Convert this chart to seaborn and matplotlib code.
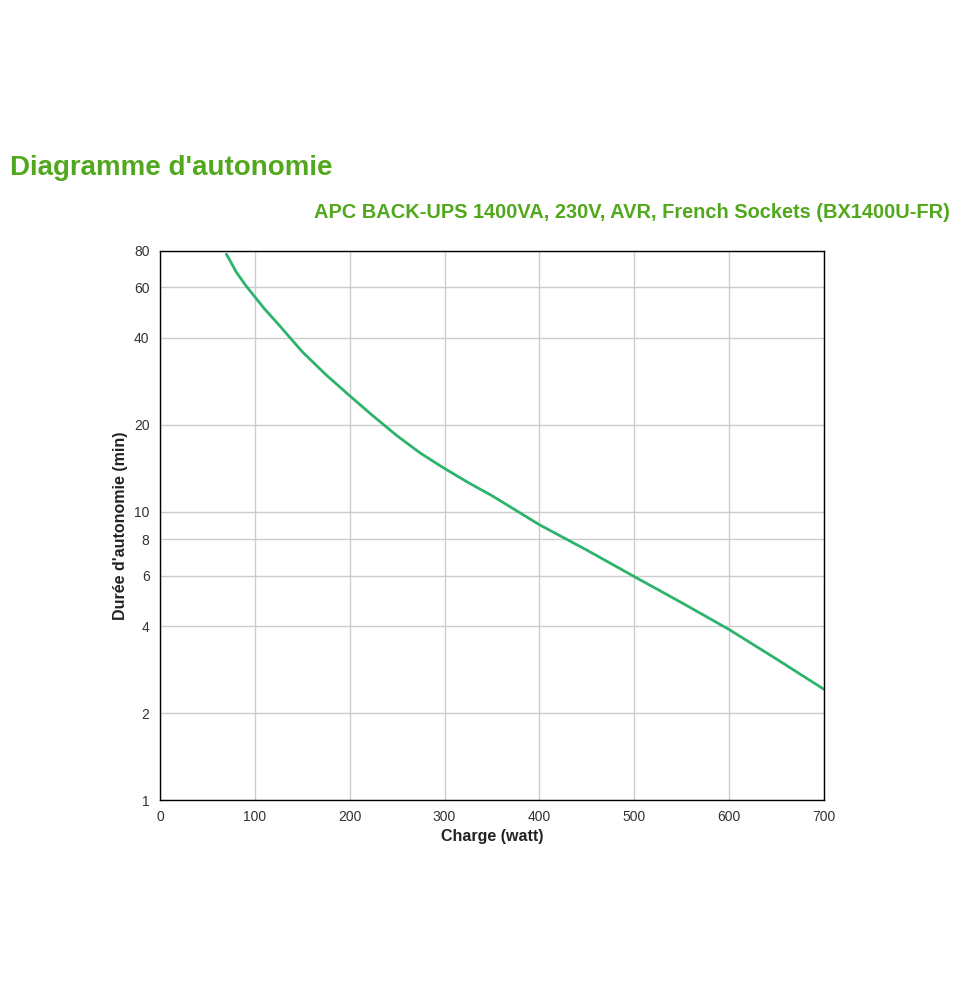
import numpy as np
import pandas as pd
import matplotlib
matplotlib.use("Agg")
import matplotlib.pyplot as plt
import seaborn as sns
from matplotlib.ticker import FixedLocator, FixedFormatter, NullLocator

# runtime curve
charge_w = [70, 75, 80, 90, 100, 110, 125, 150, 175, 200, 225, 250, 275, 300,
            325, 350, 400, 450, 500, 550, 600, 650, 700]
runtime_min = [78, 73, 68, 61, 55.5, 50.5, 44.5, 35.8, 29.8, 25.2, 21.4, 18.3,
               15.9, 14.1, 12.6, 11.35, 9.0, 7.35, 5.95, 4.83, 3.9, 3.08, 2.42]

y_ticks = [1, 2, 4, 6, 8, 10, 20, 40, 60, 80]
x_ticks = [0, 100, 200, 300, 400, 500, 600, 700]

df = pd.DataFrame({"charge": charge_w, "runtime": runtime_min})

sns.set_style("white")
plt.rcParams['font.family'] = ['Liberation Sans', 'DejaVu Sans']

fig = plt.figure(figsize=(9.73, 10), dpi=100)
ax = fig.add_axes([0.1644, 0.2, 0.6824, 0.549])

sns.lineplot(data=df, x="charge", y="runtime", ax=ax, color="#2db36b", linewidth=2.0)

ax.set_yscale("log")
ax.set_xlim(0, 700)
ax.set_ylim(1, 80)
ax.yaxis.set_major_locator(FixedLocator(y_ticks))
ax.yaxis.set_major_formatter(FixedFormatter([str(t) for t in y_ticks]))
ax.yaxis.set_minor_locator(NullLocator())
ax.set_xticks(x_ticks)
ax.grid(True, color="#cccccc", linewidth=1.0)
ax.set_axisbelow(True)

for s in ax.spines.values():
    s.set_color("black")
    s.set_linewidth(1.0)

ax.tick_params(axis="both", which="major", length=4, width=1, color="black",
               labelsize=10, labelcolor="#333333", direction="out")

ax.set_xlabel("Charge (watt)", fontsize=11.5, fontweight="bold", color="#222222",
              labelpad=3)
ax.set_ylabel("Durée d'autonomie (min)", fontsize=11.5, fontweight="bold",
              color="#222222", labelpad=4)

fig.text(10 / 973, 1 - 168 / 1000, "Diagramme d'autonomie", fontsize=20,
         fontweight="bold", color="#52a81c", va="center", ha="left")
fig.text(950 / 973, 1 - 213 / 1000,
         "APC BACK-UPS 1400VA, 230V, AVR, French Sockets (BX1400U-FR)",
         fontsize=14.4, fontweight="bold", color="#52a81c", va="center", ha="right")

fig.savefig("out.png", dpi=100, facecolor="white")
